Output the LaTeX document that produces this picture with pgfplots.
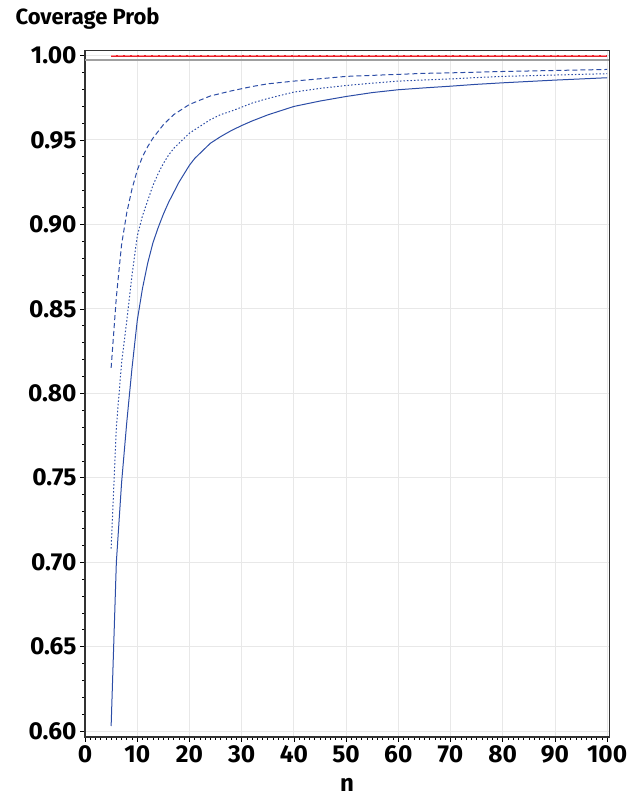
\documentclass[border=0pt]{standalone}
\usepackage{fontspec}
\setmainfont{Fira Sans}
\usepackage{pgfplots}
\pgfplotsset{compat=1.18}
\usetikzlibrary{calc}

\definecolor{sasblue}{RGB}{44,77,166}
\definecolor{sasred}{RGB}{232,32,42}
\definecolor{refgray}{RGB}{160,160,160}
\definecolor{gridgray}{RGB}{232,232,232}

\pgfplotstableread{
n cov
5 0.603
6 0.700
7 0.747
8 0.783
9 0.815
10 0.843
11 0.862
12 0.877
13 0.889
14 0.898
15 0.906
16 0.913
17 0.919
18 0.925
19 0.930
20 0.935
21 0.939
22 0.942
23 0.945
24 0.948
25 0.950
26 0.952
28 0.9555
30 0.9585
32 0.9612
35 0.9648
40 0.9698
45 0.9730
50 0.9757
55 0.9780
60 0.9797
65 0.9808
70 0.9818
75 0.9829
80 0.9838
85 0.9846
90 0.9854
95 0.9861
100 0.9868
}\solidtab

\pgfplotstableread{
n cov
5 0.708
6 0.780
7 0.818
8 0.843
9 0.870
10 0.893
11 0.905
12 0.914
13 0.923
14 0.930
15 0.936
16 0.941
17 0.945
18 0.948
19 0.951
20 0.954
22 0.958
24 0.962
26 0.965
28 0.967
30 0.9694
32 0.9718
35 0.9745
40 0.9783
45 0.9805
50 0.9822
55 0.9836
60 0.9848
65 0.9855
70 0.9861
75 0.9869
80 0.9876
85 0.9880
90 0.9884
95 0.9888
100 0.9892
}\dottab

\pgfplotstableread{
n cov
5 0.815
6 0.857
7 0.888
8 0.907
9 0.921
10 0.932
11 0.940
12 0.946
13 0.951
14 0.955
15 0.959
16 0.962
17 0.965
18 0.967
19 0.969
20 0.971
22 0.9735
24 0.9760
26 0.9775
28 0.9790
30 0.9803
32 0.9816
35 0.9832
40 0.9848
45 0.9862
50 0.9876
55 0.9882
60 0.9888
65 0.9894
70 0.9897
75 0.9901
80 0.9905
85 0.9908
90 0.9911
95 0.9914
100 0.9917
}\dashtab

\begin{document}
\begin{tikzpicture}
\begin{axis}[
  scale only axis,
  width=524pt, height=686pt,
  xmin=0, xmax=100.4,
  ymin=0.5965, ymax=1.0028,
  xtick={0,10,...,100},
  ytick={0.60,0.65,0.70,0.75,0.80,0.85,0.90,0.95,1.00},
  minor x tick num=9,
  minor y tick num=4,
  tick align=outside, tick pos=left,
  major tick length=5pt, minor tick length=3pt,
  every tick/.style={black, line width=0.6pt},
  yticklabel style={/pgf/number format/.cd, fixed, fixed zerofill, precision=2, assume math mode=true},
  xticklabel style={/pgf/number format/assume math mode=true},
  tick label style={font=\fontsize{24.5}{26}\selectfont\bfseries},
  grid=major, grid style={gridgray, line width=0.8pt},
  axis line style={black!80, line width=1.2pt},
  xlabel={n}, xlabel style={font=\fontsize{24}{26}\selectfont\bfseries, yshift=-8pt},
  clip=false,
]
\addplot[refgray, line width=1.6pt] coordinates {(0,0.9973) (100.4,0.9973)};
\addplot[sasred, line width=2pt] coordinates {(5,0.9998) (100,0.9998)};
\addplot[red!45, line width=0.6pt, dash pattern=on 5pt off 2pt] coordinates {(5,0.9998) (100,0.9998)};
\addplot[sasblue, line width=1pt] table[x=n, y=cov] {\solidtab};
\addplot[sasblue, line width=1pt, dash pattern=on 1.5pt off 2pt] table[x=n, y=cov] {\dottab};
\addplot[sasblue, line width=1pt, dash pattern=on 5pt off 3pt] table[x=n, y=cov] {\dashtab};
\coordinate (ll) at (rel axis cs:0,0);
\coordinate (ur) at (rel axis cs:1,1);
\end{axis}
\node[anchor=base west, font=\fontsize{22}{24}\selectfont\bfseries] at ($(ll|-ur)+(-73pt,26.7pt)$) {Coverage Prob};
\pgfresetboundingbox
\path ($(ll)+(-85pt,-64pt)$) rectangle ($(ur)+(21pt,50.7pt)$);
\end{tikzpicture}
\end{document}
